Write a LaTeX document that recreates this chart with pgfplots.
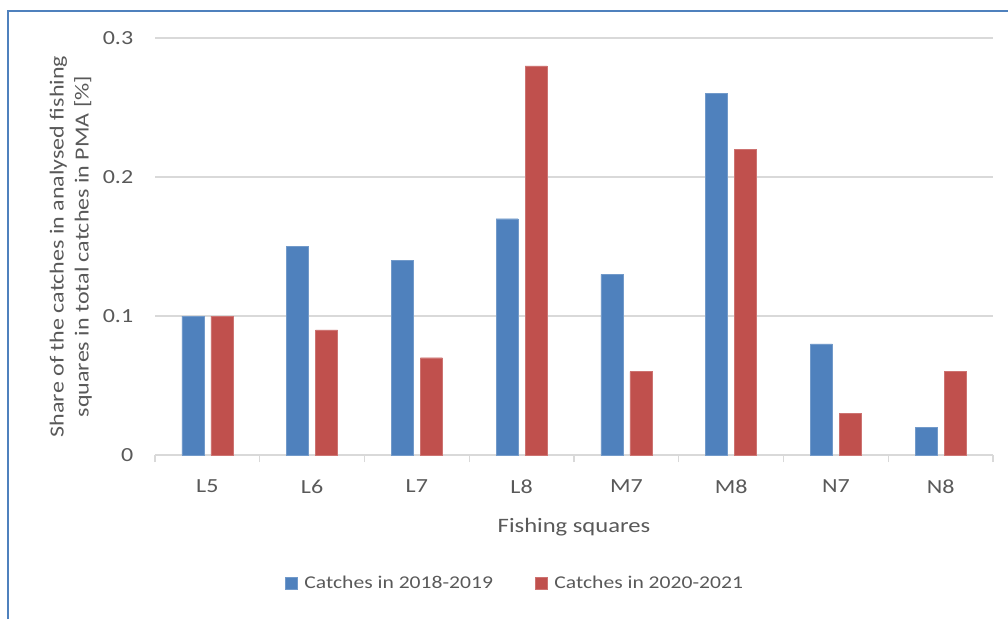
\documentclass[border=0pt]{standalone}
\usepackage{fontspec}
\setmainfont{Carlito}[FakeStretch=1.2]
\usepackage{pgfplots}
\pgfplotsset{compat=1.18}

\definecolor{serA}{RGB}{79,129,189}
\definecolor{serB}{RGB}{192,80,77}
\definecolor{txt}{RGB}{89,89,89}
\definecolor{gridc}{RGB}{217,217,217}
\definecolor{framec}{RGB}{79,129,189}

\begin{document}
\begin{tikzpicture}[x=1pt,y=1pt]
\path[use as bounding box] (0,0) rectangle (1008,619);
% outer frame (left and top edges)
\draw[framec, line width=2pt] (8,0) -- (8,608) -- (1008,608);
\begin{axis}[
  at={(155pt,164pt)}, anchor=south west,
  scale only axis, width=838pt, height=417pt,
  ybar=7pt, bar width=22pt,
  xmin=-0.5, xmax=7.5, ymin=0, ymax=0.3,
  xtick={0,...,7},
  xticklabels={L5,L6,L7,L8,M7,M8,N7,N8},
  minor xtick={-0.5,0.5,...,7.5},
  ytick={0,0.1,0.2,0.3},
  yticklabels={0,0.1,0.2,0.3},
  axis x line*=bottom, axis y line*=left,
  x axis line style={draw=gridc, line width=1.2pt},
  y axis line style={draw=none},
  major x tick style={draw=none},
  minor x tick style={draw=gridc, line width=1.2pt},
  ytick style={draw=none},
  tick align=outside, minor tick length=7pt,
  ymajorgrids, grid style={draw=gridc, line width=1.2pt},
  tick label style={font=\fontsize{20}{23}\selectfont, text=txt},
  /pgf/number format/assume math mode=true,
  yticklabel style={xshift=-14pt},
  xticklabel style={yshift=-17pt},
  xlabel={Fishing squares},
  xlabel style={font=\fontsize{20.5}{24}\selectfont, text=txt, yshift=-18pt},
  ylabel={Share of the catches in analysed fishing\\squares in total catches in PMA [\%]},
  ylabel style={font=\fontsize{20}{25}\selectfont, text=txt, align=center, yshift=4pt},
  legend style={at={(0.4296,-0.307)}, anchor=center, draw=none, fill=none,
    legend columns=2, font=\fontsize{18}{22}\selectfont, text=txt,
    /tikz/every even column/.append style={column sep=40pt}},
  legend image code/.code={\fill[#1] (0pt,-6pt) rectangle (12pt,6pt);
    \path (17pt,0pt);},
  clip=false,
]
\addplot[fill=serA, draw=serA!80!white] coordinates {
  (0,0.10) (1,0.15) (2,0.14) (3,0.17) (4,0.13) (5,0.26) (6,0.08) (7,0.02)};
\addplot[fill=serB, draw=serB!80!white] coordinates {
  (0,0.10) (1,0.09) (2,0.07) (3,0.28) (4,0.06) (5,0.22) (6,0.03) (7,0.06)};
\legend{Catches in 2018-2019, Catches in 2020-2021}
\end{axis}
\end{tikzpicture}
\end{document}
